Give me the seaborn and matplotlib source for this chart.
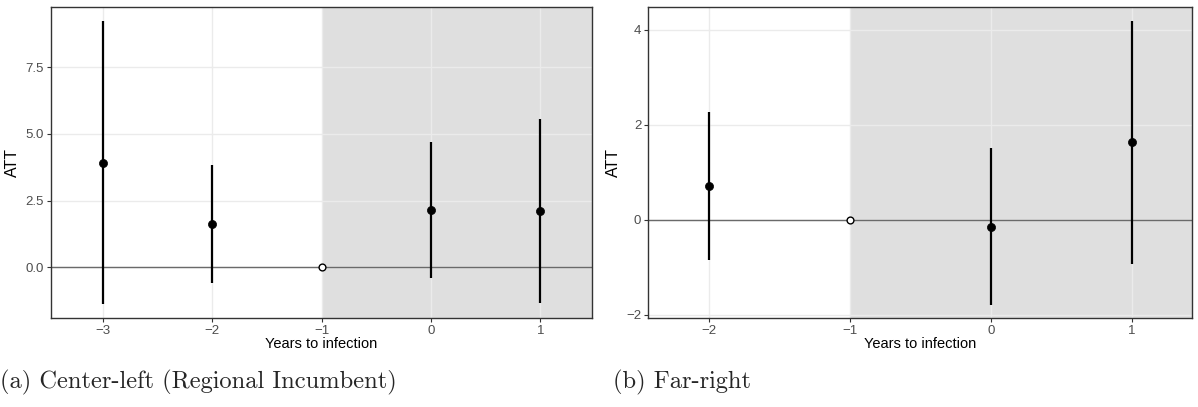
import matplotlib
matplotlib.use("Agg")
import matplotlib.pyplot as plt
import seaborn as sns
import pandas as pd

# Event-study estimates: years to infection, point estimate, 95% CI
years_a = [-3, -2, -1, 0, 1]
att_a = [3.92, 1.63, 0.0, 2.13, 2.11]
low_a = [-1.38, -0.59, 0.0, -0.42, -1.33]
high_a = [9.24, 3.83, 0.0, 4.69, 5.56]

years_b = [-2, -1, 0, 1]
att_b = [0.71, 0.0, -0.15, 1.63]
low_b = [-0.86, 0.0, -1.79, -0.93]
high_b = [2.27, 0.0, 1.50, 4.18]

ref_year = -1  # reference period (normalised to zero)

yticks_a = [0.0, 2.5, 5.0, 7.5]
ytick_labels_a = ["0.0", "2.5", "5.0", "7.5"]
yticks_b = [-2, 0, 2, 4]
ytick_labels_b = ["\u22122", "0", "2", "4"]

captions = ["(a) Center-left (Regional Incumbent)", "(b) Far-right"]

sns.set_theme(style="whitegrid")
plt.rcParams["font.family"] = ["Liberation Sans", "DejaVu Sans"]

fig = plt.figure(figsize=(11.98, 4.07), dpi=100)
W, H = 1198, 407

def make_axes(x0, x1, y0, y1):
    return fig.add_axes([x0 / W, 1 - y1 / H, (x1 - x0) / W, (y1 - y0) / H])

ax_a = make_axes(51.0, 592.0, 6.7, 318.0)
ax_b = make_axes(648.3, 1192.0, 6.7, 318.0)


def draw_panel(ax, years, att, low, high, xlim, ylim, yticks, ylabels):
    df = pd.DataFrame({"year": years, "att": att, "low": low, "high": high})
    ax.set_xlim(*xlim)
    ax.set_ylim(*ylim)
    ax.set_facecolor("white")
    # post-infection period shading
    ax.axvspan(ref_year, xlim[1], color="#b3b3b3", alpha=0.42, lw=0, zorder=0)
    ax.grid(True, color="#ebebeb", lw=1.0, zorder=0.5)
    ax.set_axisbelow(True)
    ax.axhline(0, color="#6a6a6a", lw=1.0, zorder=1)
    est = df[df["year"] != ref_year]
    ref = df[df["year"] == ref_year]
    ax.vlines(est["year"], est["low"], est["high"], color="black", lw=1.6, zorder=2)
    sns.scatterplot(data=est, x="year", y="att", ax=ax, color="black", s=34,
                    edgecolor="black", linewidth=0.5, zorder=3, legend=False)
    sns.scatterplot(data=ref, x="year", y="att", ax=ax, color="white", s=24,
                    edgecolor="black", linewidth=1.0, zorder=3, legend=False)
    ax.set_xticks(years)
    ax.set_xticklabels([str(y).replace("-", "\u2212") for y in years])
    ax.set_yticks(yticks)
    ax.set_yticklabels(ylabels)
    ax.tick_params(axis="both", labelsize=9.5, colors="#333333", length=3,
                   width=0.8, direction="out", pad=2)
    ax.tick_params(axis="both", labelcolor="#4d4d4d")
    ax.tick_params(bottom=True, left=True)
    for side in ax.spines.values():
        side.set_visible(True)
        side.set_color("#333333")
        side.set_linewidth(1.0)
    ax.set_xlabel("Years to infection", fontsize=10.5, color="black", labelpad=0)
    ax.set_ylabel("ATT", fontsize=11.5, color="black", labelpad=4)


draw_panel(ax_a, years_a, att_a, low_a, high_a, (-3.476, 1.473), (-1.9, 9.76),
           yticks_a, ytick_labels_a)
draw_panel(ax_b, years_b, att_b, low_b, high_b, (-2.43, 1.424), (-2.07, 4.48),
           yticks_b, ytick_labels_b)

fig.text(0 / W, 1 - 382 / H, captions[0], family=["cmr10", "DejaVu Serif"],
         fontsize=17.6, va="center", ha="left")
fig.text(613 / W, 1 - 382 / H, captions[1], family=["cmr10", "DejaVu Serif"],
         fontsize=17.6, va="center", ha="left")

fig.savefig("out.png", dpi=100)
